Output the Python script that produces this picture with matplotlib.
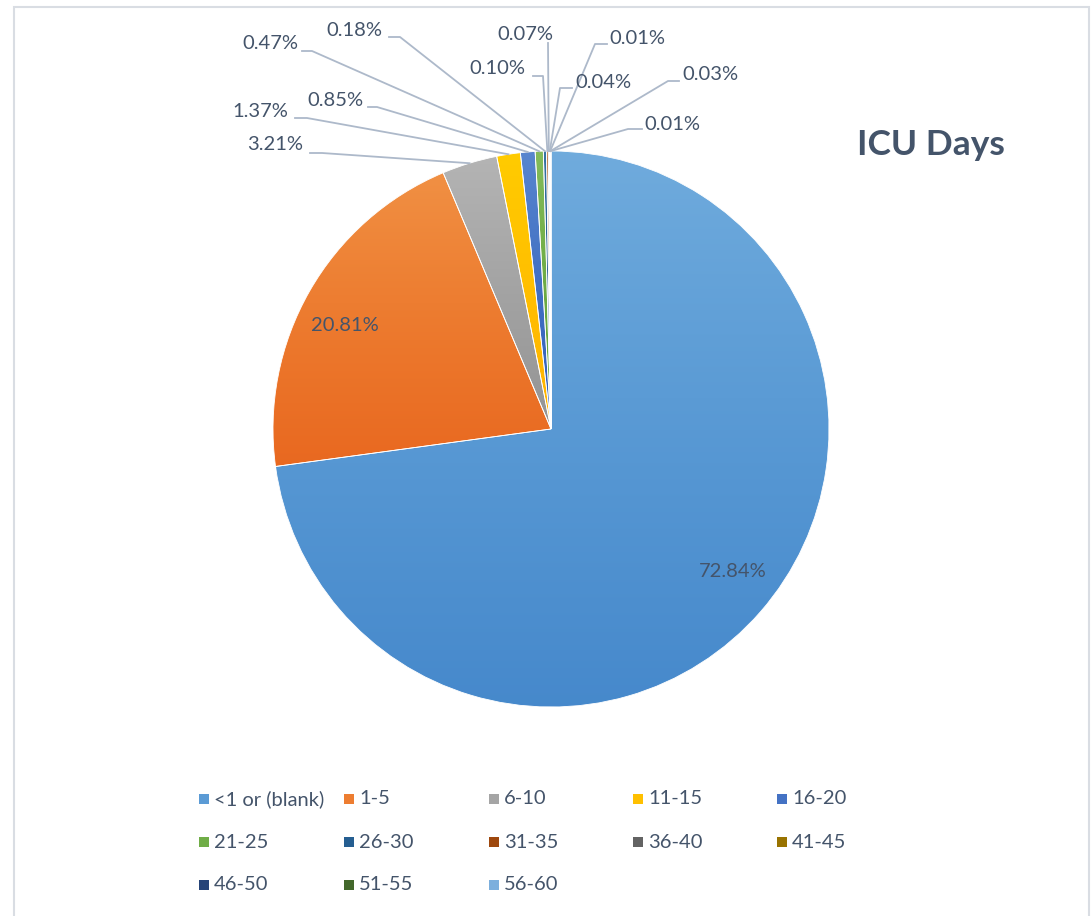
import numpy as np
import matplotlib
matplotlib.use("Agg")
import matplotlib.pyplot as plt
from matplotlib.lines import Line2D
from matplotlib.patches import Rectangle
from matplotlib.transforms import IdentityTransform
import matplotlib.colors as mcolors

# ---------------- data ----------------
categories = ["<1 or (blank)", "1-5", "6-10", "11-15", "16-20", "21-25", "26-30",
              "31-35", "36-40", "41-45", "46-50", "51-55", "56-60"]
percentages = [72.84, 20.81, 3.21, 1.37, 0.85, 0.47, 0.18, 0.10, 0.07, 0.04, 0.01, 0.03, 0.01]
colors = ["#5B9BD5", "#ED7D31", "#A5A5A5", "#FFC000", "#4472C4", "#70AD47", "#255E91",
          "#9E480E", "#636363", "#997300", "#264478", "#43682B", "#7CAFDD"]
title = "ICU Days"

# ---------------- layout ----------------
W, H = 1091, 916
FONT = "Lato"
TXT = "#44546A"
LINE = "#ADB9CA"
FS = 14.5
INSIDE_R = 0.83
INSIDE_ROT = 3.0  # degrees counter-clockwise shift of inside labels

# outside label layout (pixel coords from top-left): text centre, line anchor, stub end
outside_layout = {
    2: ((275.5, 145), (310, 153), (322, 153)),
    3: ((260.5, 111.5), (295, 118), (307, 118)),
    4: ((335, 100), (368, 107), (377, 107)),
    5: ((270, 43.5), (302, 51), (312, 51)),
    6: ((354, 30), (389, 37), (400, 37)),
    7: ((497.5, 68.5), (533, 76), (543, 76)),
    8: ((525.5, 34.5), (548, 43), (548, 43)),
    9: ((603, 82), (572, 88), (560, 88)),
    10: ((637.5, 38), (607, 44), (595, 44)),
    11: ((710.5, 74), (679, 81), (668, 81)),
    12: ((672, 124), (642, 129), (628, 129)),
}
inside_idx = [0, 1]

fig = plt.figure(figsize=(W / 100, H / 100), dpi=100)
cx, cy, R = 551, 429, 278
ax = fig.add_axes([(cx - R) / W, (H - cy - R) / H, 2 * R / W, 2 * R / H])

wedges, _ = ax.pie(percentages, colors=colors, startangle=90, counterclock=False,
                   radius=1, wedgeprops=dict(edgecolor="white", linewidth=0.6))


def grad_img(base):
    b = np.clip(np.array(mcolors.to_rgb(base)), 1e-4, 1)
    t = np.linspace(0, 1, 256)[:, None]
    gam = 0.8 + 0.45 * t
    img = b[None, :] ** gam
    return img[:, None, :].repeat(2, axis=1)


for w, c in zip(wedges, colors):
    ext = w.get_path().get_extents()
    im = ax.imshow(grad_img(c), extent=[ext.x0, ext.x1, ext.y0, ext.y1],
                   origin="upper", aspect="auto", zorder=0.5, interpolation="bilinear")
    im.set_clip_path(w)
    w.set_facecolor("none")
    w.set_zorder(1)
ax.set_xlim(-1, 1)
ax.set_ylim(-1, 1)
ax.set_aspect("equal")
ax.axis("off")
ax.apply_aspect()

# inside labels
for i in inside_idx:
    w = wedges[i]
    ang = np.deg2rad((w.theta1 + w.theta2) / 2 + INSIDE_ROT)
    ax.text(INSIDE_R * np.cos(ang), INSIDE_R * np.sin(ang), f"{percentages[i]:.2f}%",
            ha="center", va="center", fontsize=FS, family=FONT, color=TXT, zorder=3)

# outside labels with leader lines
ident = IdentityTransform()
for i, (tc, anc, stub) in outside_layout.items():
    w = wedges[i]
    ang = np.deg2rad((w.theta1 + w.theta2) / 2)
    ex, ey = ax.transData.transform((np.cos(ang), np.sin(ang)))
    xs = [anc[0], stub[0], ex]
    ys = [H - anc[1], H - stub[1], ey]
    fig.add_artist(Line2D(xs, ys, transform=ident, color=LINE, lw=1.3, zorder=2))
    fig.text(tc[0] / W, 1 - tc[1] / H, f"{percentages[i]:.2f}%", ha="center", va="center",
             fontsize=FS, family=FONT, color=TXT)

# title
fig.text(930.5 / W, 1 - 145 / H, title, ha="center", va="center", fontsize=25.5,
         fontweight="bold", family=FONT, color=TXT)

# legend (manual grid, 5 columns)
col_x = [199, 344, 489, 633, 777]
row_y = [799, 842, 885]
sq = 10
for k, (cat, c) in enumerate(zip(categories, colors)):
    r, cc = divmod(k, 5)
    x0, y0 = col_x[cc], row_y[r]
    fig.add_artist(Rectangle((x0, H - y0 - sq / 2), sq, sq, transform=ident,
                             facecolor=c, edgecolor="none"))
    fig.text((x0 + sq + 5) / W, 1 - y0 / H, cat, ha="left", va="center",
             fontsize=FS, family=FONT, color=TXT)

# chart border
fig.add_artist(Rectangle((14, -10), 1089 - 14, H - 7 + 10, transform=ident,
                         facecolor="none", edgecolor="#D9DDE3", lw=1.5))

fig.savefig("out.png", dpi=100)
